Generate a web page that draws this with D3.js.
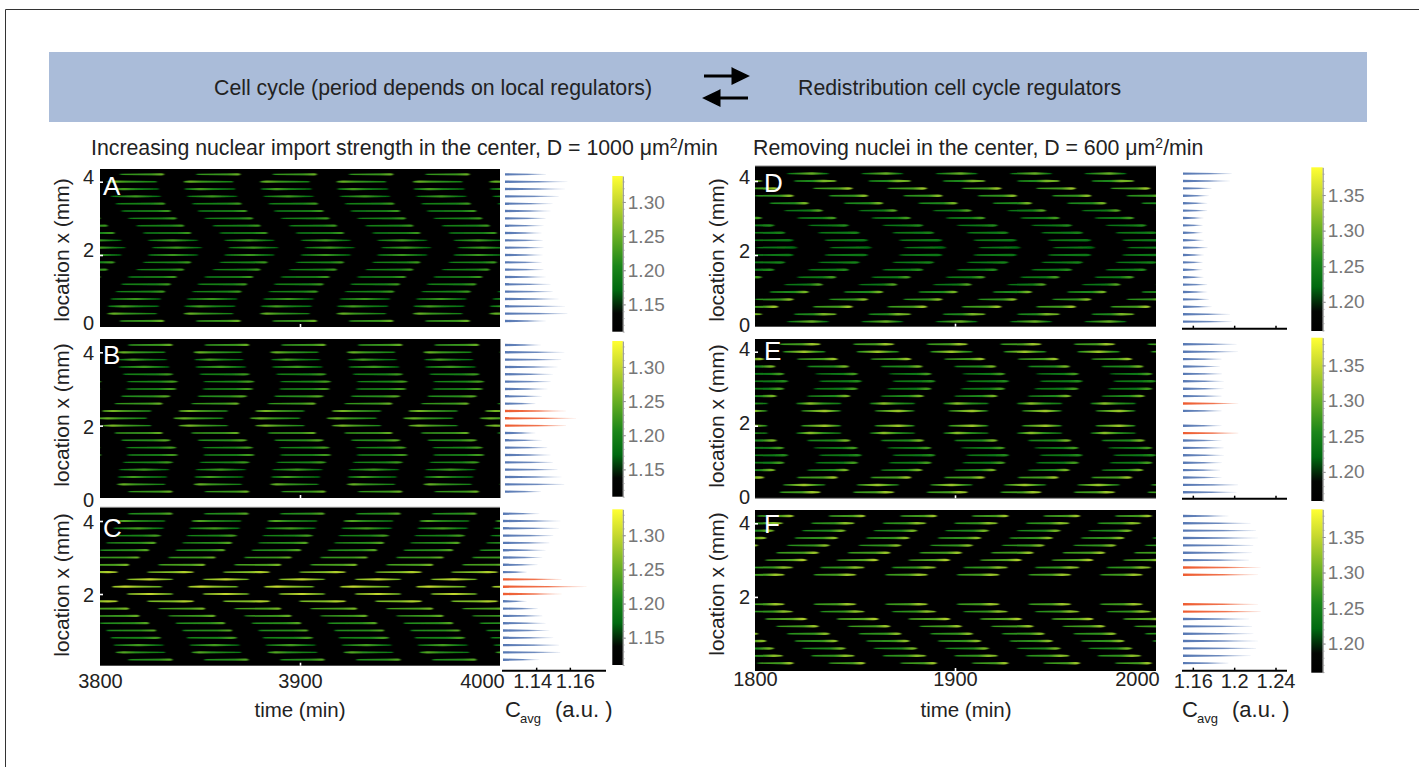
<!DOCTYPE html>
<html><head><meta charset="utf-8">
<script src="https://cdn.jsdelivr.net/npm/d3@7/dist/d3.min.js"></script>
<style>html,body{margin:0;padding:0;background:#fff}svg{display:block}text{font-family:"Liberation Sans",Arial,sans-serif}</style>
</head><body><div id="chart"></div>
<script>
// ---------- data ----------
const rowLocations=[4.2,4.0,3.8,3.6,3.4,3.2,3.0,2.8,2.6,2.4,2.2,2.0,1.8,1.6,1.4,1.2,1.0,0.8,0.6,0.4,0.2];
const leftTimeTicks=[3800,3900,4000], rightTimeTicks=[1800,1900,2000];
const leftBarTicks=[1.14,1.16], rightBarTicks=[1.16,1.2,1.24];
const leftScaleTicks=[1.15,1.20,1.25,1.30], rightScaleTicks=[1.20,1.25,1.30,1.35];
const leftScaleDomain=[1.11,1.338], rightScaleDomain=[1.159,1.389];
const colorStops=[[0,"#000000"],[0.12,"#030603"],[0.27,"#006a10"],[0.42,"#1b861a"],[0.62,"#6ab023"],[0.84,"#c8d92f"],[1,"#ffff33"]];

const cyclesA=[-38.2,0,38.2,76.4,114.6,152.8,191];
const cyclesB=[-38.3,0,38.3,76.6,114.9,153.2,191.5];
const cyclesC=[-38,0,38,76,114,152,190,228];
const cyclesD=[-37.2,0,37.2,74.4,111.6,148.8,186];
const cyclesE=[-36.8,0,36.8,73.6,110.4,147.2,184];
const cyclesF=[-35.8,0,35.8,71.6,107.4,143.2,179,214.8];

// streak start / end in minutes after the panel's first time
const startA=[10,3.8,4.2,5.5,8,10.8,14.2,18.3,21.7,24.2,26.2,24.2,21.7,18.3,14.2,10.8,8,5.5,4.2,3.8,10];
const endA=[32,28.3,29.3,30.3,32.5,35.3,38.3,42,45.5,48.8,50.8,48.8,45.5,42,38.3,35.3,32.5,30.3,29.3,28.3,32];
const peakA=[1.25,1.25,1.23,1.225,1.225,1.225,1.225,1.225,1.225,1.225,1.225,1.225,1.225,1.225,1.225,1.225,1.225,1.225,1.23,1.25,1.25];
const peakAtA=[.95,.12,.3,.5,.95,.95,.95,.95,.95,.5,.5,.5,.95,.95,.95,.95,.95,.5,.3,.12,.95];
const barA=[1.1455,1.1582,1.1568,1.1531,1.1495,1.1483,1.1453,1.1441,1.143,1.1436,1.1441,1.1436,1.143,1.1441,1.1453,1.1483,1.1495,1.1531,1.1568,1.1582,1.1455];
const redA=[];

const startB=[14.2,8.7,9.2,9.7,11.7,13.7,13.3,10.8,7.5,1.3,-1.3,1.3,7.5,10.8,13.3,13.7,11.7,9.7,9.2,8.7,14.2];
const endB=[36.2,32.5,33.3,34.5,36.3,38.7,38,35,31.2,25.5,23.3,25.5,31.2,35,38,38.7,36.3,34.5,33.3,32.5,36.2];
const peakB=[1.25,1.25,1.23,1.225,1.225,1.23,1.23,1.24,1.25,1.26,1.25,1.26,1.25,1.24,1.23,1.23,1.225,1.225,1.23,1.25,1.25];
const peakAtB=[.95,.12,.3,.5,.9,.9,.9,.9,.95,.2,.2,.2,.95,.9,.9,.9,.9,.5,.3,.12,.95];
const barB=[1.1425,1.1564,1.1546,1.1524,1.1496,1.1483,1.1463,1.1431,1.1392,1.1574,1.1633,1.1574,1.1392,1.1431,1.1463,1.1483,1.1496,1.1524,1.1546,1.1564,1.1425];
const redB=[9,10,11];

const startC=[14.2,8,7,5.5,3.3,0,-3.7,-8.7,-14.2,13.7,6.3,13.7,-14.2,-8.7,-3.7,0,3.3,5.5,7,8,14.2];
const endC=[36.2,32.5,31.7,30.3,28,24.5,19.7,14.5,8.7,36.3,30.8,36.3,8.7,14.5,19.7,24.5,28,30.3,31.7,32.5,36.2];
const peakC=[1.24,1.24,1.23,1.23,1.24,1.24,1.25,1.26,1.29,1.30,1.30,1.30,1.29,1.26,1.25,1.24,1.24,1.23,1.23,1.24,1.24];
const peakAtC=[.95,.15,.5,.9,.95,.95,.95,.95,.8,.5,.25,.5,.8,.95,.95,.95,.95,.9,.5,.15,.95];
const barC=[1.1415,1.154,1.1532,1.1498,1.1475,1.1453,1.1433,1.1406,1.1341,1.1548,1.1696,1.1548,1.1341,1.1406,1.1433,1.1453,1.1475,1.1498,1.1532,1.154,1.1415];
const redC=[9,10,11];

const startD=[16.2,19.7,29.2,0,7.5,14.7,21.2,26.7,31.7,35,37.5,35,31.7,26.7,21.2,14.7,7.5,0,29.2,19.7,16.2];
const endD=[36.7,40.5,48.7,19.2,26.7,33.8,40.5,46.8,52.2,56.3,58.3,56.3,52.2,46.8,40.5,33.8,26.7,19.2,48.7,40.5,36.7];
const peakD=[1.30,1.31,1.33,1.32,1.31,1.29,1.28,1.26,1.25,1.235,1.225,1.235,1.25,1.26,1.28,1.29,1.31,1.32,1.33,1.31,1.30];
const peakAtD=[.6,.7,.9,.9,.9,.9,.9,.9,.9,.9,.9,.9,.9,.9,.9,.9,.9,.9,.9,.7,.6];
const barD=[1.1971,1.1954,1.1778,1.1751,1.1735,1.1735,1.17,1.169,1.169,1.1703,1.1739,1.1703,1.169,1.169,1.17,1.1735,1.1735,1.1751,1.1778,1.1954,1.1971];
const redD=[];

const startE=[12.5,14.2,21.2,26.3,30.3,32.2,29.5,26.3,20.8,23.3,null,23.3,20.8,26.3,29.5,32.2,30.3,26.3,21.2,14.2,12.5];
const endE=[32.5,35,41.2,46.8,51.3,53.2,51.2,47.5,43,42.8,null,42.8,43,47.5,51.2,53.2,51.3,46.8,41.2,35,32.5];
const peakE=[1.33,1.33,1.33,1.31,1.28,1.26,1.28,1.31,1.32,1.33,null,1.33,1.32,1.31,1.28,1.26,1.28,1.31,1.33,1.33,1.33];
const peakAtE=[.8,.5,.9,.9,.9,.9,.9,.9,.3,.6,null,.6,.3,.9,.9,.9,.9,.9,.9,.5,.8];
const barE=[1.2019,1.2032,1.1874,1.1858,1.1877,1.1896,1.1894,1.1874,1.2035,1.1874,null,1.1874,1.2035,1.1874,1.1894,1.1896,1.1877,1.1858,1.1874,1.2032,1.2019];
const redE=[8,12];

const startF=[1.2,28.3,23.7,20,16.2,10.8,5.3,-3,-6.3,null,null,null,-6.3,-3,5.3,10.8,16.2,20,23.7,28.3,1.2];
const endF=[19.2,49.5,45.2,41.3,37.2,31.7,25.8,18.7,14.5,null,null,null,14.5,18.7,25.8,31.7,37.2,41.3,45.2,49.5,19.2];
const peakF=[1.33,1.32,1.31,1.32,1.32,1.33,1.34,1.32,1.33,null,null,null,1.33,1.32,1.34,1.33,1.32,1.32,1.31,1.32,1.33];
const peakAtF=[.9,.8,.9,.9,.9,.9,.9,.8,.8,null,null,null,.8,.8,.9,.9,.9,.9,.9,.8,.9];
const barF=[1.1938,1.2155,1.2206,1.2225,1.218,1.2167,1.2138,1.2251,1.2225,null,null,null,1.2225,1.2251,1.2138,1.2167,1.218,1.2225,1.2206,1.2155,1.1938];
const redF=[7,8,12,13];

// ---------- layout ----------
const L={t0:3800,x0:100,x1:500,bar0:1.12,barX:[503,604],cbX:612.3,cbW:10.5,dom:leftScaleDomain,cbT:leftScaleTicks,barT:leftBarTicks,axX:[502,606],ty:69,lx:94,drop:.03};
const R={t0:1800,x0:755,x1:1156,bar0:1.15,barX:[1183,1287],cbX:1311.3,cbW:11.4,dom:rightScaleDomain,cbT:rightScaleTicks,barT:rightBarTicks,axX:[1182,1287],ty:724,lx:750,drop:.055};
const panels=[
 {id:"A",s:L,start:startA,end:endA,peak:peakA,at:peakAtA,bar:barA,red:redA,cyc:cyclesA,y4:181.7,y0:328.3,top:169,bot:327,cb:[331.7,176],lt:[0,2,4],ldy:-5,title:250,axis:null,edge:null,lx:103,ly:195},
 {id:"B",s:L,start:startB,end:endB,peak:peakB,at:peakAtB,bar:barB,red:redB,cyc:cyclesB,y4:352.3,y0:499,top:339,bot:498,cb:[496.7,341],lt:[0,2,4],ldy:1,title:415,axis:null,edge:"right",lx:103,ly:364},
 {id:"C",s:L,start:startC,end:endC,peak:peakC,at:peakAtC,bar:barC,red:redC,cyc:cyclesC,y4:521,y0:667,top:507.3,bot:665.7,cb:[665,509.3],lt:[2,4],ldy:1,title:585,axis:670.7,edge:"top",labels:true,lx:103,ly:537},
 {id:"D",s:R,start:startD,end:endD,peak:peakD,at:peakAtD,bar:barD,red:redD,cyc:cyclesD,y4:181,y0:329,top:166,bot:326.7,cb:[331,167.3],lt:[0,2,4],ldy:-4,title:250,axis:328.7,edge:"top",lx:764,ly:192},
 {id:"E",s:R,start:startE,end:endE,peak:peakE,at:peakAtE,bar:barE,red:redE,cyc:cyclesE,y4:351.7,y0:499.7,top:339,bot:498.3,cb:[501,337.7],lt:[0,2,4],ldy:-3,title:416,axis:498.7,edge:"bottom",lx:764,ly:360},
 {id:"F",s:R,start:startF,end:endF,peak:peakF,at:peakAtF,bar:barF,red:redF,cyc:cyclesF,y4:523.3,y0:670.5,top:510,bot:671,cb:[672.7,509.3],lt:[2,4],ldy:0,title:584,axis:670.7,edge:null,labels:true,lx:764,ly:533}
];
const barLabelShift={1.14:-4,1.16:5};
const INK="#222", GREY="#777", BLUE="#5577b3", RED="#ee5c30";

const svg=d3.select("#chart").append("svg").attr("width",1419).attr("height",767);
const defs=svg.append("defs");
defs.append("filter").attr("id","soft").attr("x","-10%").attr("y","-300%").attr("width","120%").attr("height","700%")
  .append("feGaussianBlur").attr("stdDeviation","1 0.45");
defs.append("filter").attr("id","softbar").attr("x","-5%").attr("y","-200%").attr("width","110%").attr("height","500%")
  .append("feGaussianBlur").attr("stdDeviation","0.5 0.3");

// frame and header band
svg.append("path").attr("d","M5.5,767V9.5H1419").attr("fill","none").attr("stroke","#333").attr("stroke-width",1);
svg.append("rect").attr("x",49).attr("y",52).attr("width",1318).attr("height",70).attr("fill","#aabcd9");
const text=(x,y,t,o={})=>svg.append("text").attr("x",x).attr("y",y).attr("fill",o.fill||INK).attr("font-size",o.size||20).attr("text-anchor",o.anchor||"start").text(t);
text(214,95,"Cell cycle (period depends on local regulators)",{size:21.3});
text(798,95,"Redistribution cell cycle regulators",{size:21.3});
svg.append("path").attr("d","M704,76H733M733,69.5L746.5,76L733,82.5Z M748,98H719M719,91.5L705.5,98L719,104.5Z").attr("stroke","#000").attr("stroke-width",3).attr("fill","#000");

function sub(x,y,a,b){
  const t=svg.append("text").attr("x",x).attr("y",y).attr("fill",INK).attr("font-size",21.3);
  t.append("tspan").text(a); t.append("tspan").attr("dy",-7).attr("font-size",14).text("2");
  t.append("tspan").attr("dy",7).text(b);
}
sub(91,155,"Increasing nuclear import strength in the center, D = 1000 μm","/min");
sub(753,155,"Removing nuclei in the center, D = 600 μm","/min");

const cmap=d3.scaleLinear().domain(colorStops.map(d=>d[0])).range(colorStops.map(d=>d[1])).interpolate(d3.interpolateRgb);

panels.forEach(p=>{
  const s=p.s;
  const x=d3.scaleLinear().domain([s.t0,s.t0+200]).range([s.x0,s.x0+400]);
  const y=d3.scaleLinear().domain([0,4]).range([p.y0,p.y4]);
  const v=d3.scaleLinear().domain(s.dom).range([0,1]);
  const barS=d3.scaleLinear().domain([s.bar0,s.bar0+0.06]).range([s.barX[0],s.barX[0]+(s===L?101:62)]);
  const g=svg.append("g");
  const clip="clip"+p.id;
  defs.append("clipPath").attr("id",clip).append("rect").attr("x",s.x0).attr("y",p.top).attr("width",s.x1-s.x0).attr("height",p.bot-p.top);
  g.append("rect").attr("x",s.x0).attr("y",p.top).attr("width",s.x1-s.x0).attr("height",p.bot-p.top).attr("fill","#000");

  // streaks
  const sg=g.append("g").attr("clip-path",`url(#${clip})`).append("g").attr("filter","url(#soft)");
  const floor=v.invert(0.33);
  rowLocations.forEach((loc,i)=>{
    if(p.start[i]==null) return;
    const id=`st${p.id}${i}`, at=p.at[i], pk=p.peak[i];
    const mid=Math.max(pk-s.drop,floor), low=mid-0.025;
    const lg=defs.append("linearGradient").attr("id",id);
    const stops=at<.3?[[0,mid],[at,pk],[Math.min(at+.25,.8),mid+.003],[1,low]]
      :at<.7?[[0,low],[.1,mid],[at,pk],[Math.min(at+.3,.95),mid],[1,low]]
      :[[0,low],[.1,mid],[Math.max(at-.25,.3),mid+.003],[at,pk],[1,pk-.01]];
    stops.forEach(d=>lg.append("stop").attr("offset",d[0]).attr("stop-color",cmap(v(d[1]))));
    p.cyc.forEach(c=>{
      const x0=x(s.t0+c+p.start[i]), x1=x(s.t0+c+p.end[i]), xp=x0+(x1-x0)*at, yy=y(loc);
      const thick=s===L?1.1:1.25;
      sg.append("path").attr("d",`M${x0},${yy-.7}L${xp},${yy-thick}L${x1},${yy-.7}V${yy+.7}L${xp},${yy+thick}L${x0},${yy+.7}Z`)
        .attr("fill",`url(#${id})`);
    });
  });

  // panel edge lines
  if(p.edge==="top") g.append("line").attr("x1",s.x0).attr("x2",s.x1).attr("y1",p.top).attr("y2",p.top).attr("stroke","#888");
  if(p.edge==="bottom") g.append("line").attr("x1",s.x0).attr("x2",s.x1).attr("y1",p.bot).attr("y2",p.bot).attr("stroke","#888");
  if(p.edge==="right") g.append("line").attr("x1",s.x1+.5).attr("x2",s.x1+.5).attr("y1",p.top).attr("y2",p.bot).attr("stroke","#888");

  // y axis: white ticks inside the panel, labels outside
  const ya=d3.axisLeft(y).tickValues(p.lt).tickFormat(d3.format("d")).tickSizeInner(-3).tickSizeOuter(0).tickPadding(s===L?6:5);
  const yg=g.append("g").attr("transform",`translate(${s.x0},0)`).call(ya);
  yg.select(".domain").remove();
  yg.selectAll("line").attr("stroke","#fff").attr("stroke-width",1.6);
  yg.selectAll("text").attr("font-size",20).attr("fill",INK).attr("dy",(.32*20+p.ldy)+"px").style("font-family",'"Liberation Sans"');

  // x axis: one white tick at the panel foot, labels under panel C and F
  const xa=d3.axisBottom(x).tickValues(s===L?leftTimeTicks:rightTimeTicks).tickFormat(d3.format("d")).tickSizeInner(-3).tickSizeOuter(0).tickPadding(7);
  const xg=g.append("g").attr("transform",`translate(0,${p.bot})`).call(xa);
  xg.select(".domain").remove();
  xg.selectAll(".tick").filter((d,i)=>i!==1).select("line").remove();
  xg.selectAll("line").attr("stroke","#fff").attr("stroke-width",1.6);
  if(p.labels){
    xg.selectAll("text").attr("font-size",20).attr("fill",INK).style("font-family",'"Liberation Sans"')
      .attr("dy",null).attr("y",p.id==="C"?22:15)
      .attr("dx",(d,i)=>i===2?-18:0);
  } else xg.selectAll("text").remove();

  // panel letter and y title
  g.append("text").attr("x",p.lx).attr("y",p.ly).attr("font-size",26).attr("fill","#fff").text(p.id);
  g.append("text").attr("transform",`translate(${s.ty},${p.title}) rotate(-90)`).attr("text-anchor","middle").attr("font-size",21).attr("fill",INK).text("location x (mm)");

  // side spikes
  const bg=g.append("g").attr("filter","url(#softbar)");
  const base=s.barX[0]+(p.id==="A"||p.id==="B"?2:0);
  rowLocations.forEach((loc,i)=>{
    if(p.bar[i]==null) return;
    const col=p.red.includes(i)?RED:BLUE, id=`bar${p.id}${i}`;
    const lg=defs.append("linearGradient").attr("id",id).attr("gradientUnits","userSpaceOnUse").attr("x1",base).attr("x2",barS(p.bar[i])).attr("y1",0).attr("y2",0);
    lg.append("stop").attr("offset",0).attr("stop-color",col);
    lg.append("stop").attr("offset",.55).attr("stop-color",col).attr("stop-opacity",.85);
    lg.append("stop").attr("offset",1).attr("stop-color",col).attr("stop-opacity",.12);
    const yy=y(loc);
    bg.append("path").attr("d",`M${base},${yy-1.2}L${barS(p.bar[i])},${yy-.3}V${yy+.3}L${base},${yy+1.2}Z`).attr("fill",`url(#${id})`);
  });
  if(p.axis!=null){
    const ax=g.append("g");
    ax.append("line").attr("x1",s.axX[0]).attr("x2",s.axX[1]).attr("y1",p.axis).attr("y2",p.axis).attr("stroke","#000").attr("stroke-width",2);
    s.barT.forEach(t=>{
      ax.append("line").attr("x1",barS(t)).attr("x2",barS(t)).attr("y1",p.axis).attr("y2",p.axis-3).attr("stroke","#000").attr("stroke-width",1.5);
      if(p.labels) ax.append("text").attr("x",barS(t)+(s===L?barLabelShift[t]:0)).attr("y",p.axis+17.5).attr("text-anchor","middle").attr("font-size",20).attr("fill",INK).text(d3.format(t===1.2?".1f":".2f")(t));
    });
  }

  // colour scale
  const cy=d3.scaleLinear().domain(s.dom).range(p.cb);
  const cid="cb"+p.id;
  const cg=defs.append("linearGradient").attr("id",cid).attr("x1",0).attr("x2",0).attr("y1",1).attr("y2",0);
  colorStops.forEach(d=>cg.append("stop").attr("offset",d[0]).attr("stop-color",d[1]));
  g.append("rect").attr("x",s.cbX).attr("y",p.cb[1]).attr("width",s.cbW).attr("height",p.cb[0]-p.cb[1]).attr("fill",`url(#${cid})`);
  const ca=d3.axisRight(cy).tickValues(s.cbT).tickFormat(d3.format(".2f")).tickSizeInner(3).tickSizeOuter(0).tickPadding(2);
  const cag=g.append("g").attr("transform",`translate(${s.cbX+s.cbW},0)`).call(ca);
  cag.select(".domain").attr("stroke","#888");
  cag.selectAll("line").attr("stroke","#888");
  cag.selectAll("text").attr("font-size",19).attr("fill",GREY).style("font-family",'"Liberation Sans"');
  const minor=d3.axisLeft(cy).tickValues(d3.range(s.dom[0],s.dom[1],0.01).map(d=>Math.round(d*100)/100)).tickFormat("").tickSizeInner(-2).tickSizeOuter(0);
  const mg=g.append("g").attr("transform",`translate(${s.cbX+s.cbW},0)`).call(minor);
  mg.select(".domain").remove(); mg.selectAll("line").attr("stroke","#999").attr("stroke-opacity",.6);
});

// bottom titles
text(300,717,"time (min)",{size:20.5,anchor:"middle"});
text(966,717,"time (min)",{size:20.5,anchor:"middle"});
[[505,520,555],[1182,1197,1232]].forEach(a=>{
  text(a[0],717,"C",{size:22});
  text(a[1],723,"avg",{size:13});
  text(a[2],717,"(a.u. )",{size:22});
});
</script></body></html>
